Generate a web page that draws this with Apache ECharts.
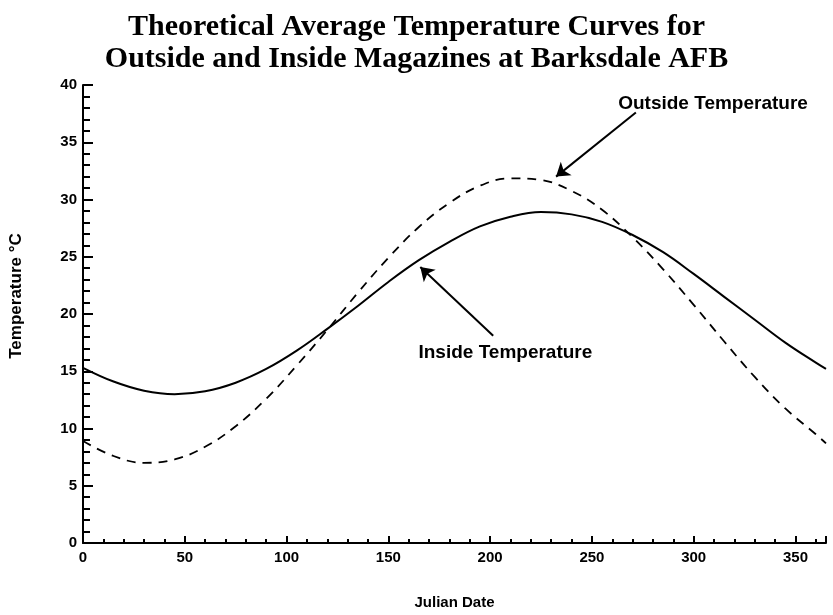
<!DOCTYPE html>
<html><head><meta charset="utf-8">
<script src="https://cdn.jsdelivr.net/npm/echarts@6/dist/echarts.min.js"></script>
<style>html,body{margin:0;padding:0;background:#fff}#c{width:833px;height:615px}</style>
</head><body><div id="c"></div>
<script>
var days = [0,15,30,45,60,75,90,105,120,135,150,165,180,195,210,225,240,255,270,285,300,315,330,345,360,365];
var insideTemp = [15.3,14.1,13.3,13.0,13.25,14.0,15.2,16.8,18.7,20.7,22.8,24.7,26.3,27.65,28.5,28.9,28.7,28.05,26.9,25.4,23.5,21.5,19.5,17.5,15.75,15.2];
var outsideTemp = [8.9,7.6,7.0,7.3,8.4,10.2,12.6,15.5,18.6,21.85,24.9,27.6,29.7,31.2,31.85,31.7,30.75,29.1,26.7,23.9,20.8,17.6,14.5,11.75,9.5,8.7];
var titleText = 'Theoretical Average Temperature Curves for\nOutside and Inside Magazines at Barksdale AFB';
var xName = 'Julian Date';
var yName = 'Temperature \u00B0C';
// annotation anchors in data space: [day, temp]
var outsideLabelAt = [309.5, 38.4];
var outsideArrow = [[271.6, 37.6], [232.4, 32.0]];
var insideLabelAt = [207.5, 16.6];
var insideArrow = [[201.5, 18.1], [165.7, 24.1]];

function pairs(xs, ys){ return xs.map(function(x,i){ return [x, ys[i]]; }); }

var chart = echarts.init(document.getElementById('c'));
var axisFont = {fontFamily:'Liberation Sans', fontWeight:'bold', fontSize:15, color:'#000'};
chart.setOption({
  animation:false,
  title:{text:titleText, left:'center', top:6,
    textStyle:{fontFamily:'Liberation Serif', fontWeight:'bold', fontSize:30, lineHeight:32, color:'#000'}},
  grid:{left:82, right:7, top:85, bottom:70},
  xAxis:{type:'value', min:0, max:365, interval:50,
    name:xName, nameLocation:'middle', nameGap:52,
    nameTextStyle:{fontFamily:'Liberation Sans', fontWeight:'bold', fontSize:15, color:'#000'},
    axisLine:{lineStyle:{color:'#000', width:2}},
    axisTick:{inside:true, length:7, lineStyle:{color:'#000', width:2}},
    minorTick:{show:true, splitNumber:5, length:4, lineStyle:{color:'#000', width:2}},
    splitLine:{show:false},
    axisLabel:Object.assign({margin:7, showMaxLabel:false}, axisFont)},
  yAxis:{type:'value', min:0, max:40, interval:5,
    name:yName, nameLocation:'middle', nameGap:58, nameRotate:90,
    nameTextStyle:{fontFamily:'Liberation Sans', fontWeight:'bold', fontSize:17, color:'#000', padding:[0,0,0,36]},
    axisLine:{show:true, lineStyle:{color:'#000', width:2}},
    axisTick:{show:true, inside:true, length:10, lineStyle:{color:'#000', width:2}},
    minorTick:{show:true, splitNumber:5, length:7, lineStyle:{color:'#000', width:2}},
    splitLine:{show:false},
    axisLabel:Object.assign({margin:6}, axisFont)},
  series:[
    {type:'line', name:'Inside Temperature', data:pairs(days, insideTemp), smooth:0.4, symbol:'none',
     lineStyle:{color:'#000', width:2}, z:3,
     markLine:{silent:true, symbol:['none','arrow'], symbolSize:13,
       lineStyle:{color:'#000', width:2, type:'solid'}, label:{show:false},
       data:[[{coord:insideArrow[0]},{coord:insideArrow[1]}],[{coord:outsideArrow[0]},{coord:outsideArrow[1]}]]},
     markPoint:{silent:true, symbol:'circle', symbolSize:0,
       label:{show:true, position:'inside', fontFamily:'Liberation Sans', fontWeight:'bold', fontSize:19, color:'#000', formatter:function(p){return p.name;}},
       data:[{name:'Inside Temperature', coord:insideLabelAt},{name:'Outside Temperature', coord:outsideLabelAt}]}},
    {type:'line', name:'Outside Temperature', data:pairs(days, outsideTemp), smooth:0.4, symbol:'none',
     lineStyle:{color:'#000', width:1.8, type:[9,7]}, z:2}
  ]
});
</script></body></html>
